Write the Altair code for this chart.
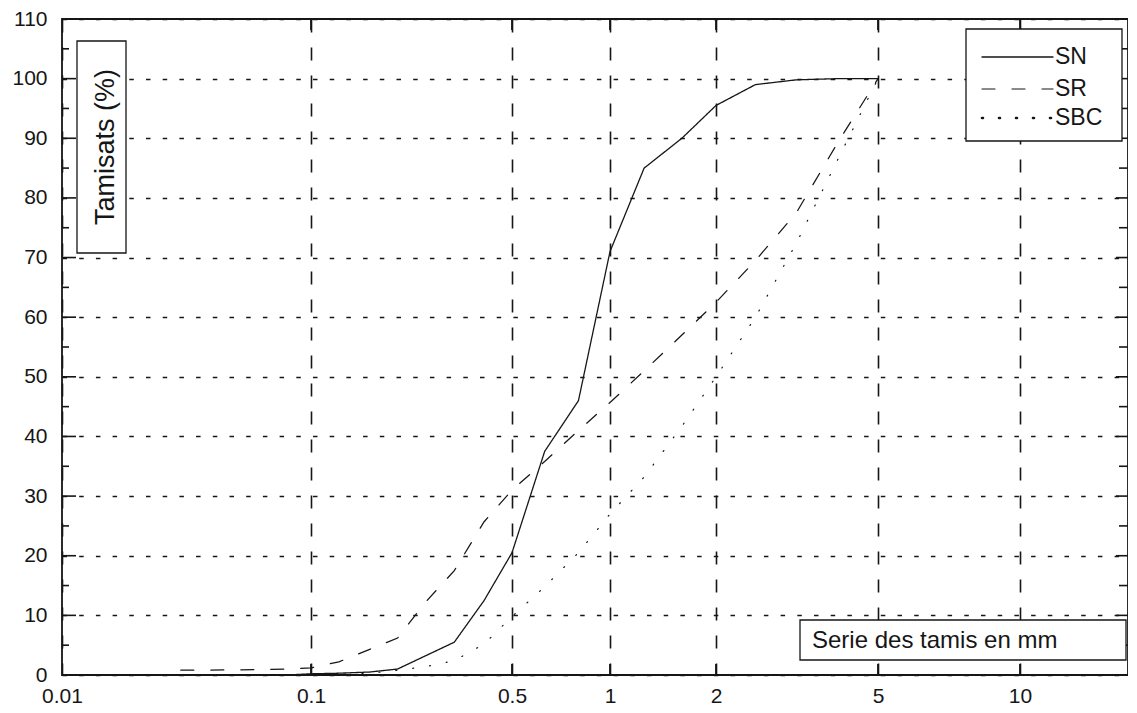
import altair as alt
import pandas as pd

# ---- data ----
series_names = ["SN", "SR", "SBC"]

sieve_sn = [0.08, 0.1, 0.125, 0.16, 0.2, 0.315, 0.4, 0.5, 0.63, 0.8, 1, 1.25, 1.6, 2, 2.5, 3.15, 4, 5]
pass_sn = [0.0, 0.2, 0.3, 0.5, 1.0, 5.5, 12.5, 20.5, 37.5, 46, 71, 85, 90, 95.5, 99, 99.8, 100, 100]

sieve_sr = [0.03, 0.063, 0.08, 0.1, 0.125, 0.16, 0.2, 0.25, 0.315, 0.4, 0.5, 0.63, 0.8, 1, 1.25, 1.6, 2, 2.5, 3.15, 4, 5]
pass_sr = [0.8, 0.9, 1.0, 1.2, 2.2, 4.3, 6.2, 12.2, 17.5, 25.7, 31, 35.8, 41, 45.7, 51, 57, 62.5, 69.5, 77.5, 89.5, 100]

sieve_sbc = [0.1, 0.125, 0.16, 0.2, 0.25, 0.315, 0.4, 0.5, 0.63, 0.8, 1, 1.25, 1.6, 2, 2.5, 3.15, 4, 5]
pass_sbc = [0.0, 0.1, 0.3, 0.8, 1.4, 2.4, 5.2, 9.8, 14.8, 20.5, 27, 33.2, 41.7, 50, 60, 72.4, 86.7, 100]

x_tick_values = [0.01, 0.1, 0.5, 1, 2, 5, 10]
x_grid_values = [0.1, 0.5, 1, 2, 5, 10]
y_tick_values = list(range(0, 111, 10))
y_minor_values = list(range(5, 110, 10))

rows = []
for name, xs, ys in [("SN", sieve_sn, pass_sn), ("SR", sieve_sr, pass_sr), ("SBC", sieve_sbc, pass_sbc)]:
    for xv, yv in zip(xs, ys):
        rows.append({"serie": name, "tamis": xv, "passant": yv})
df = pd.DataFrame(rows)

# ---- layout / style ----
W, H = 1066, 656
INK = "#161616"
FONT = "Liberation Sans"
DASHES = {"SN": [1, 0], "SR": [13, 17], "SBC": [1, 16]}
WIDTHS = {"SN": 1.3, "SR": 1.2, "SBC": 3.4}

x_scale = alt.Scale(type="log", domain=[0.01, 0.1, 0.5, 1, 2, 5, 10, 20],
                    range=[0, 249, 450, 548, 654, 816, 958, W])
y_scale = alt.Scale(domain=[0, 110], nice=False, zero=False)

x_axis = alt.Axis(values=x_tick_values, format="~g", title=None, domain=False, ticks=False,
                  grid=True, gridDash=[13, 15], gridColor=INK, gridWidth=1.6, gridOpacity=1,
                  labelFont=FONT, labelFontSize=21, labelColor=INK, labelPadding=10,
                  labelFlush=False, labelOverlap=False)
y_axis = alt.Axis(values=y_tick_values, title=None, domain=False, ticks=False,
                  grid=True, gridDash=[4.5, 12.2], gridColor=INK, gridWidth=1.6, gridOpacity=1,
                  labelFont=FONT, labelFontSize=21, labelColor=INK, labelPadding=15,
                  labelFlush=False, labelOverlap=False)

lines = alt.Chart(df).mark_line(color=INK, strokeCap="round").encode(
    x=alt.X("tamis:Q", scale=x_scale, axis=x_axis),
    y=alt.Y("passant:Q", scale=y_scale, axis=y_axis),
    strokeDash=alt.StrokeDash(
        "serie:N",
        scale=alt.Scale(domain=series_names, range=[DASHES[s] for s in series_names]),
        legend=None,
    ),
    strokeWidth=alt.StrokeWidth(
        "serie:N", scale=alt.Scale(domain=series_names, range=[WIDTHS[s] for s in series_names]),
        legend=None,
    ),
    order="tamis:Q",
)

tick_df_major = pd.DataFrame({"v": y_tick_values})
tick_df_minor = pd.DataFrame({"v": y_minor_values})
tick_df_x = pd.DataFrame({"v": x_grid_values})


def yrule(data, x0, x1):
    return alt.Chart(data).mark_rule(color=INK, strokeWidth=1.6).encode(
        y=alt.Y("v:Q", scale=y_scale, axis=y_axis), x=alt.value(x0), x2=alt.value(x1))


def xrule(data, y0, y1):
    return alt.Chart(data).mark_rule(color=INK, strokeWidth=1.8).encode(
        x=alt.X("v:Q", scale=x_scale, axis=x_axis), y=alt.value(y0), y2=alt.value(y1))


left_major = yrule(tick_df_major, 0, 14)
left_minor = yrule(tick_df_minor, 0, 7)
right_major = yrule(tick_df_major, W - 12, W)
right_minor = yrule(tick_df_minor, W - 9, W)
bottom_ticks = xrule(tick_df_x, H, H - 11)
top_ticks = xrule(tick_df_x, 0, 11)

one = pd.DataFrame({"k": [0]})


def box(x0, x1, y0, y1):
    return alt.Chart(one).mark_rect(fill="white", stroke=INK, strokeWidth=1.3).encode(
        x=alt.value(x0), x2=alt.value(x1), y=alt.value(y0), y2=alt.value(y1))


def label(text, x, y, size, align="left", angle=0):
    return alt.Chart(one).mark_text(font=FONT, fontSize=size, color=INK, angle=angle,
                                    align=align, baseline="middle").encode(
        x=alt.value(x), y=alt.value(y), text=alt.value(text))


ybox = box(15, 64, 22, 234)
ytitle = label("Tamisats (%)", 44, 128, 27, align="center", angle=270)
xbox = box(738, 1064, 601, 641)
xtitle = label("Serie des tamis en mm", 750, 622, 24)

# legend (box, sample lines, names)
legend_layers = [box(904, 1060, 10, 122)]
legend_rows = {"SN": 38, "SR": 70, "SBC": 99}
for s in series_names:
    yy = legend_rows[s]
    legend_layers.append(
        alt.Chart(one).mark_rule(color=INK, strokeWidth=min(WIDTHS[s], 2.6), strokeDash=DASHES[s],
                                 strokeCap="round").encode(
            x=alt.value(920), x2=alt.value(991), y=alt.value(yy))
    )
    legend_layers.append(label(s, 993, yy, 23))

chart = alt.layer(
    lines, left_major, left_minor, right_major, right_minor, bottom_ticks, top_ticks,
    ybox, ytitle, xbox, xtitle, *legend_layers,
).properties(
    width=W, height=H,
    autosize=alt.AutoSizeParams(type="none"),
    padding={"left": 54, "top": 11, "right": 0, "bottom": 30},
    background="white",
).configure_view(stroke=INK, strokeWidth=1.8)

chart.save("out.html", embed_options={"renderer": "svg", "actions": False})
